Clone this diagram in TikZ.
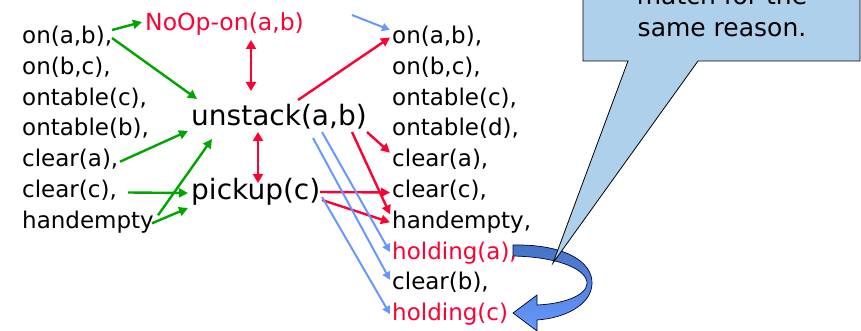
\documentclass[tikz,border=0pt]{standalone}
\usepackage{fontspec}
\setmainfont{DejaVu Sans}
\usetikzlibrary{arrows.meta,calc}
\definecolor{myred}{RGB}{255,0,51}
\definecolor{mygreen}{RGB}{0,165,0}
\definecolor{myblue}{RGB}{102,153,255}
\definecolor{callfill}{RGB}{175,208,235}
\definecolor{arrtop}{RGB}{68,114,196}
\definecolor{arrbot}{RGB}{102,153,255}
\begin{document}
\begin{tikzpicture}[x=1pt,y=-1pt,
  txt/.style={anchor=base west, inner sep=0pt, font=\fontsize{23}{27}\selectfont},
  big/.style={anchor=base west, inner sep=0pt, font=\fontsize{28}{32}\selectfont},
  garr/.style={draw=mygreen, line width=2.4pt, -{Triangle[length=9pt,width=9pt]}},
  rarr/.style={draw=myred, line width=2.4pt, -{Triangle[length=9pt,width=9pt]}},
  rdbl/.style={draw=myred, line width=2.6pt, {Triangle[length=9pt,width=10pt]}-{Triangle[length=9pt,width=10pt]}},
  barr/.style={draw=myblue, line width=2pt, -{Triangle[length=8pt,width=8pt]}}]
\useasboundingbox (0,0) rectangle (861,331);
\begin{scope}
\clip (0,0) rectangle (861,331);
% left column
\node[txt] (L1) at (22,43.5) {on(a,b),};
\node[txt] (L2) at (22,74.3) {on(b,c),};
\node[txt] (L3) at (22,105.1) {ontable(c),};
\node[txt] (L4) at (22,135.9) {ontable(b),};
\node[txt] (L5) at (22,166.7) {clear(a),};
\node[txt] (L6) at (22,197.5) {clear(c),};
\node[txt] (L7) at (22,228.3) {handempty};
% middle
\node[txt, text=myred, font=\fontsize{23.5}{27}\selectfont] (noop) at (145,31) {NoOp-on(a,b)};
\node[big] (unstack) at (191,126) {unstack(a,b)};
\node[big] (pickup) at (191,200) {pickup(c)};
% right column
\node[txt] (R1) at (392,43.5) {on(a,b),};
\node[txt] (R2) at (392,74.3) {on(b,c),};
\node[txt] (R3) at (392,105.1) {ontable(c),};
\node[txt] (R4) at (392,135.9) {ontable(d),};
\node[txt] (R5) at (392,166.7) {clear(a),};
\node[txt] (R6) at (392,197.5) {clear(c),};
\node[txt] (R7) at (392,228.3) {handempty,};
\node[txt, text=myred] (R8) at (392,259.1) {holding(a),};
\node[txt] (R9) at (392,289.9) {clear(b),};
\node[txt, text=myred] (R10) at (392,320.2) {holding(c)};
% green arrows
\draw[garr] ($(L1.base west)+(90,-13.5)$) -- ($(noop.base west)+(-3,-9)$);
\draw[garr] ($(L1.base west)+(90,-5.5)$) -- ($(unstack.base west)+(6,-27)$);
\draw[garr] ($(L5.base west)+(98,-5)$) -- ($(unstack.base west)+(-3,5)$);
\draw[garr] ($(L7.base west)+(136,-13)$) -- ($(unstack.base west)+(21,13)$);
\draw[garr] ($(L6.base west)+(106,-5)$) -- ($(pickup.base west)+(-3,-7)$);
\draw[garr] ($(L7.base west)+(130,-5)$) -- ($(pickup.base west)+(-3,8)$);
% red double arrows
\draw[rdbl] ($(noop.base west)+(106,9)$) -- ($(unstack.base west)+(60,-35)$);
\draw[rdbl] ($(unstack.base west)+(67,6)$) -- ($(pickup.base west)+(67,-17)$);
% red arrows
\draw[rarr] ($(unstack.base west)+(107,-26)$) -- ($(R1.base west)+(-2,-6)$);
\draw[rarr] ($(unstack.base west)+(176,6)$) -- ($(R5.base west)+(-2,-14)$);
\draw[rarr] ($(unstack.base west)+(161,6)$) -- ($(R7.base west)+(-2,-14)$);
\draw[rarr] ($(pickup.base west)+(129,-8)$) -- ($(R6.base west)+(-2,-5)$);
\draw[rarr] ($(pickup.base west)+(131,0)$) -- ($(R7.base west)+(-2,-6)$);
% blue arrows
\coordinate (bfree) at (352,15);
\draw[barr] (bfree) -- ($(R1.base west)+(-2,-13.5)$);
\draw[barr] ($(unstack.base west)+(131,6)$) -- ($(R8.base west)+(-2,-7)$);
\draw[barr] ($(unstack.base west)+(122,12)$) -- ($(R9.base west)+(-2,-10)$);
\draw[barr] ($(pickup.base west)+(131,-3)$) -- ($(R10.base west)+(-2,-6)$);
% curved block arrow
\path[draw=black!80!blue, line width=0.7pt, top color=arrtop, bottom color=arrbot]
  (513,245) .. controls (565,244) and (593,262) .. (592,284)
  .. controls (591,305) and (565,318) .. (537,320)
  -- (537,331) -- (513,313) -- (537,295) -- (537,305)
  .. controls (562,304) and (586,296) .. (587,284)
  .. controls (588,270) and (560,257) .. (513,256) -- cycle;
% callout
\path[draw=black, line width=0.8pt, fill=callfill]
  (583,-10) -- (583,61) -- (628,61) -- (553,263) -- (698,61) -- (860,61) -- (860,-10) -- cycle;
\node[txt, anchor=base, font=\fontsize{25}{29}\selectfont] (c1) at (722,5) {match for the};
\node[txt, anchor=base, font=\fontsize{25}{29}\selectfont] (c2) at (722,37) {same reason.};
\end{scope}
\end{tikzpicture}
\end{document}
